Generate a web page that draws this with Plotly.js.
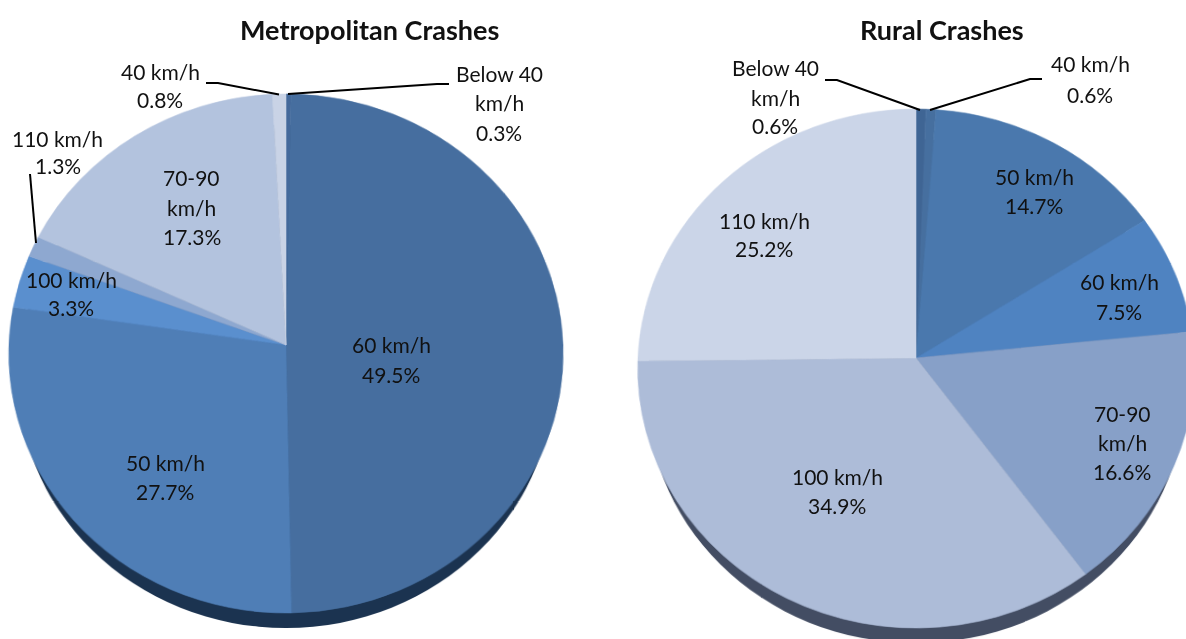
<!DOCTYPE html>
<html>
<head>
<meta charset="utf-8">
<script src="https://cdn.plot.ly/plotly-3.0.1.min.js"></script>
<style>
html,body{margin:0;padding:0;background:#fff;overflow:hidden;width:1186px;height:639px}
.layer{position:absolute;left:0;top:0;width:1250px;height:700px}
</style>
</head>
<body>
<div id="pieMetro" class="layer"></div>
<div id="pieRural" class="layer"></div>
<div id="labels" class="layer"></div>
<script>
// ---- data ----
const metroCategories = ["Below 40 km/h","60 km/h","50 km/h","100 km/h","110 km/h","70-90 km/h","40 km/h"];
const metroValues     = [0.3, 49.5, 27.7, 3.3, 1.3, 17.3, 0.8];
const ruralCategories = ["Below 40 km/h","40 km/h","50 km/h","60 km/h","70-90 km/h","100 km/h","110 km/h"];
const ruralValues     = [0.6, 0.6, 14.7, 7.5, 16.6, 34.9, 25.2];
const chartTitles     = ["Metropolitan Crashes","Rural Crashes"];

// ---- style ----
const metroColors = ["#44699b","#466e9f","#4f7eb6","#5a8fce","#8ea8d0","#b3c3de","#c9d3e6"];
const ruralColors = ["#3f6594","#466f9f","#4a78ad","#4f83c1","#87a0c8","#adbcd8","#cbd5e8"];
const rimColors   = ["#1b3350","#434d63"];
const W = 1250, H = 700;
const fx = p => p / W, fy = p => 1 - p / H;

// pie geometry in page pixels: centre x, apex y, radius, perspective k and a, rim shift and inset
const pieGeom = [
  {cx:286, cy:345, r:277, k:-0.03275, a:259.2,  rimShift:25, rimInset:10},
  {cx:916, cy:358, r:278, k:-0.04046, a:259.07, rimShift:25, rimInset:10}
];
const dom = (p, dy, inset) => ({
  x:[fx(p.cx - p.r + inset), fx(p.cx + p.r - inset)],
  y:[1 - (p.cy + dy + p.r - inset) / H, 1 - (p.cy + dy - p.r + inset) / H]
});

const common = {type:"pie", sort:false, direction:"clockwise", rotation:0,
  textinfo:"none", hoverinfo:"skip", showlegend:false};
const blank = {width:W, height:H, margin:{l:0,r:0,t:0,b:0,pad:0},
  paper_bgcolor:"rgba(0,0,0,0)", plot_bgcolor:"rgba(0,0,0,0)",
  xaxis:{visible:false}, yaxis:{visible:false}};
const cfg = {displayModeBar:false, staticPlot:true};

function drawPie(id, geom, cats, vals, colors, rimColor){
  const el = document.getElementById(id);
  const rim = Object.assign({}, common, {values:[1], labels:["rim"], domain:dom(geom, geom.rimShift, geom.rimInset),
    marker:{colors:[rimColor], line:{width:0}}});
  const top = Object.assign({}, common, {labels:cats, values:vals, domain:dom(geom, 0, 0),
    marker:{colors:colors, line:{color:colors, width:0.6}}});
  // perspective tilt of the 3-D original
  const m22 = geom.a / geom.r, m24 = geom.k / geom.r;
  el.style.transformOrigin = geom.cx + "px " + geom.cy + "px";
  el.style.transform = "matrix3d(1,0,0,0, 0," + m22 + ",0," + m24 + ", 0,0,1,0, 0,0,0,1)";
  return Plotly.newPlot(el, [rim, top], Object.assign({}, blank), cfg);
}
drawPie("pieMetro", pieGeom[0], metroCategories, metroValues, metroColors, rimColors[0]);
drawPie("pieRural", pieGeom[1], ruralCategories, ruralValues, ruralColors, rimColors[1]);

// label placement: centre x and the y of each text line, in the order of the category lists
const metroLabelPos = [[499,[73,103,132]],[391,[344,374]],[165,[462,491]],[71,[279,308]],[58,[138,166]],[192,[177,207,236]],[160,[71,99]]];
const ruralLabelPos = [[775,[67,97,126]],[1090,[64,95]],[1034,[176,205]],[1119,[282,311]],[1122,[413,442,471]],[837,[476,505]],[764,[220,249]]];
const FONT = "Lato, Carlito, Calibri, sans-serif";

function labelLines(cat, val, n){
  const pct = val.toFixed(1) + "%";
  if (n === 2) return [cat, pct];
  const parts = cat.split(" ");
  return [parts[0] + (parts.length > 2 ? " " + parts[1] : ""), parts[parts.length-1], pct];
}
const annotations = [];
function addLabels(cats, vals, pos){
  cats.forEach((c,i)=>{
    const lines = labelLines(c, vals[i], pos[i][1].length);
    lines.forEach((t,j)=>annotations.push({
      text:t, xref:"paper", yref:"paper", x:fx(pos[i][0]), y:fy(pos[i][1][j]),
      xanchor:"center", yanchor:"middle", showarrow:false,
      font:{family:FONT, size:21, color:"#111"}
    }));
  });
}
addLabels(metroCategories, metroValues, metroLabelPos);
addLabels(ruralCategories, ruralValues, ruralLabelPos);
[[369,30],[942,30]].forEach((p,i)=>annotations.push({
  text:"<b>"+chartTitles[i]+"</b>", xref:"paper", yref:"paper", x:fx(p[0]), y:fy(p[1]),
  xanchor:"center", yanchor:"middle", showarrow:false,
  font:{family:FONT, size:27, color:"#111"}
}));

// leader lines
const leaders = [
  [[206,83],[218,83],[279,94.5]],
  [[288,94],[437,84],[449,84]],
  [[30,174],[36,243]],
  [[825,80],[837,80],[920,110]],
  [[930,110],[1030,79],[1042,79]]
];
const shapes = leaders.map(pts=>({
  type:"path", xref:"paper", yref:"paper",
  path:pts.map((q,i)=>(i?"L":"M")+fx(q[0])+","+fy(q[1])).join(" "),
  line:{color:"#000", width:2}, fillcolor:"rgba(0,0,0,0)"
}));

Plotly.newPlot("labels", [], Object.assign({}, blank, {annotations, shapes}), cfg);
</script>
</body>
</html>
